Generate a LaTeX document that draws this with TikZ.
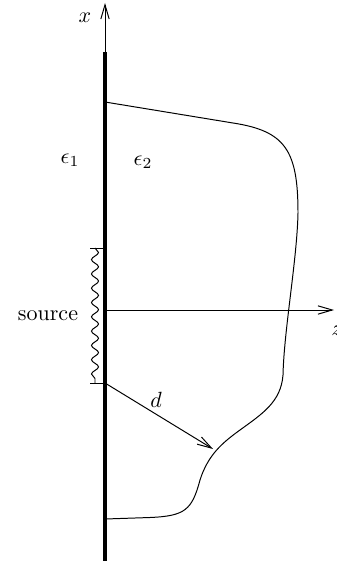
\documentclass[tikz,border=0pt]{standalone}
\usetikzlibrary{decorations.pathmorphing,arrows.meta}
\begin{document}
\begin{tikzpicture}[x={(0.4545pt,0)},y={(0,-0.4545pt)},
  thin line/.style={line width=0.45pt},
  wall/.style={line width=2.2pt},
  tipped/.style={-{Straight Barb[length=6.5pt,width=3.8pt,line width=0.45pt]}},
  wavy/.style={line width=0.45pt,decorate,decoration={snake,segment length=6.5pt,amplitude=1.6pt}},
  lbl/.style={inner sep=0pt}]
\useasboundingbox (0,0) rectangle (337,561);
% coordinates
\coordinate (wtop) at (105,52);
\coordinate (wbot) at (105,561);
\coordinate (xtip) at (105,3);
\coordinate (origin) at (105,310);
\coordinate (ztip) at (334,310);
\coordinate (s1) at (105,248);
\coordinate (s2) at (105,383);
\coordinate (s1l) at (90,248);
\coordinate (s2l) at (90,383);
\coordinate (w1) at (95,248);
\coordinate (w2) at (95,383);
\coordinate (tipd) at (213,449);
% wall and axes
\draw[wall] (wtop) -- (wbot);
\draw[thin line,tipped] (wtop) -- (xtip);
\draw[thin line,tipped] (origin) -- (ztip);
\node[lbl] (xl) at (85,18) {$x$};
\node[lbl] (zl) at (337,331) {$z$};
% source
\draw[thin line] (s1l) -- (s1);
\draw[thin line] (s2l) -- (s2);
\draw[wavy] (w1) -- (w2);
\node[lbl] (src) at (48,316) {source};
% media
\node[lbl] (e1) at (70,160) {$\epsilon_1$};
\node[lbl] (e2) at (143,162) {$\epsilon_2$};
% boundary curve
\draw[thin line] (105,102) -- (233,123)
  .. controls (285,131) and (298,150) .. (298,213)
  .. controls (297,260) and (284,330) .. (283,375)
  .. controls (281,402) and (262,414) .. (240,430)
  .. controls (222,443) and (208,455) .. (200,480)
  .. controls (192,510) and (185,516) .. (150,517.5) -- (105,519);
% distance arrow
\draw[thin line,tipped] (s2) -- (tipd);
\node[lbl] (dl) at (156,400) {$d$};
\end{tikzpicture}
\end{document}
